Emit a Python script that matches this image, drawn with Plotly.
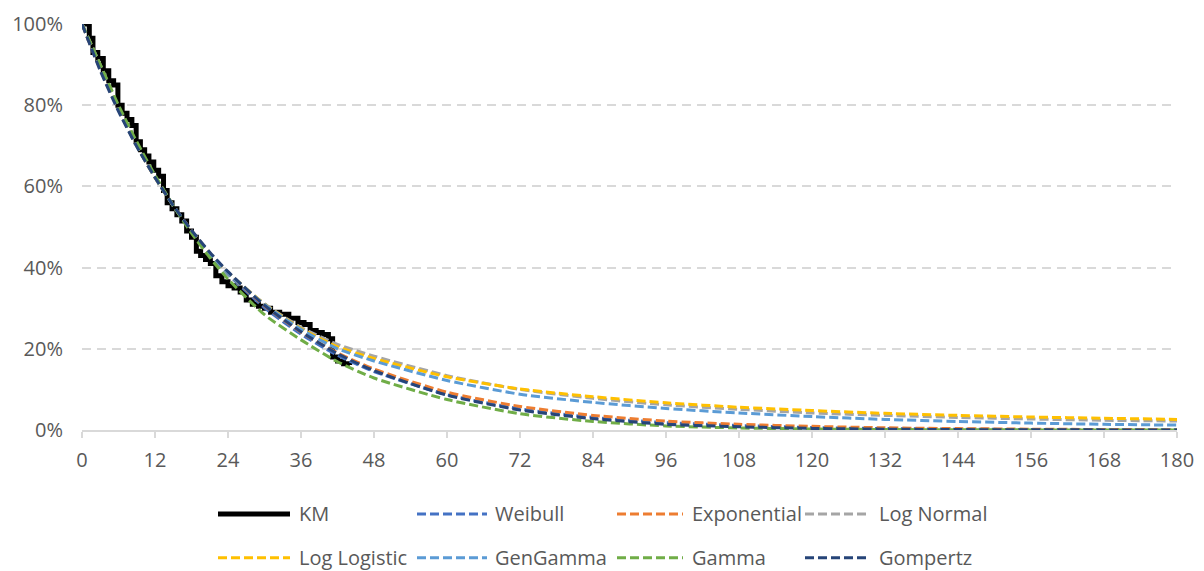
import plotly.graph_objects as go

# ---------------- data ----------------
months = [0, 3, 6, 9, 12, 15, 18, 21, 24, 30, 36, 42, 48, 60, 72, 84, 96, 108, 120, 132, 144, 156, 168, 180]

weibull = [1.0, 0.89, 0.79, 0.70, 0.623, 0.552, 0.489, 0.433, 0.384, 0.301, 0.236, 0.184, 0.144, 0.087, 0.052, 0.031,
           0.018, 0.011, 0.006, 0.0035, 0.002, 0.0012, 0.0007, 0.0004]
exponential = [1.0, 0.888, 0.789, 0.70, 0.622, 0.553, 0.491, 0.436, 0.387, 0.306, 0.241, 0.19, 0.15, 0.093, 0.058,
               0.036, 0.022, 0.014, 0.009, 0.0054, 0.0034, 0.0021, 0.0013, 0.0008]
log_normal = [1.0, 0.90, 0.795, 0.705, 0.625, 0.553, 0.49, 0.435, 0.388, 0.311, 0.253, 0.211, 0.182, 0.134, 0.100,
              0.078, 0.062, 0.051, 0.042, 0.036, 0.031, 0.027, 0.024, 0.022]
log_logistic = [1.0, 0.895, 0.79, 0.70, 0.622, 0.552, 0.49, 0.435, 0.388, 0.31, 0.25, 0.205, 0.176, 0.131, 0.101,
                0.082, 0.067, 0.056, 0.048, 0.041, 0.036, 0.032, 0.029, 0.026]
gen_gamma = [1.0, 0.895, 0.79, 0.70, 0.622, 0.552, 0.49, 0.435, 0.387, 0.309, 0.248, 0.200, 0.170, 0.122, 0.088,
             0.068, 0.053, 0.042, 0.033, 0.026, 0.021, 0.017, 0.014, 0.012]
gamma = [1.0, 0.90, 0.80, 0.71, 0.628, 0.553, 0.485, 0.425, 0.372, 0.284, 0.222, 0.168, 0.128, 0.075, 0.040, 0.021,
         0.010, 0.005, 0.0025, 0.0012, 0.0006, 0.0003, 0.00015, 0.0001]
gompertz = [1.0, 0.885, 0.785, 0.698, 0.622, 0.553, 0.492, 0.438, 0.39, 0.307, 0.242, 0.188, 0.146, 0.086, 0.049,
            0.028, 0.014, 0.008, 0.004, 0.002, 0.001, 0.0005, 0.0003, 0.0001]

km_months = [0, 1.2, 1.8, 2.6, 3.5, 4.4, 5.2, 5.9, 6.6, 7.4, 8.2, 8.9, 9.6, 10.3, 11.0, 11.8, 12.6, 13.4, 14.0,
             14.8, 15.6, 16.4, 17.2, 18.0, 18.8, 19.5, 20.3, 21.1, 22.0, 23.0, 24.0, 25.0, 26.0, 27.0, 28.0, 29.0,
             30.0, 31.0, 32.5, 34.0, 35.5, 36.5, 37.5, 38.5, 39.5, 40.5, 41.2, 42.0, 43.0, 44.0]
km_surv = [1.0, 0.965, 0.93, 0.915, 0.885, 0.86, 0.85, 0.80, 0.78, 0.765, 0.75, 0.71, 0.69, 0.675, 0.66, 0.64,
           0.625, 0.59, 0.56, 0.545, 0.53, 0.515, 0.49, 0.475, 0.44, 0.43, 0.42, 0.41, 0.38, 0.365, 0.355, 0.35,
           0.34, 0.32, 0.31, 0.305, 0.30, 0.29, 0.285, 0.275, 0.265, 0.26, 0.245, 0.24, 0.235, 0.225, 0.18, 0.17,
           0.163, 0.16]

x_ticks = list(range(0, 181, 12))
y_ticks = [0, 0.2, 0.4, 0.6, 0.8, 1.0]
y_tick_labels = ["0%", "20%", "40%", "60%", "80%", "100%"]

series = [
    ("Weibull", weibull, "#4472C4"),
    ("Exponential", exponential, "#ED7D31"),
    ("Log Normal", log_normal, "#A5A5A5"),
    ("Log Logistic", log_logistic, "#FFC000"),
    ("GenGamma", gen_gamma, "#5B9BD5"),
    ("Gamma", gamma, "#70AD47"),
    ("Gompertz", gompertz, "#264478"),
]

DASH = "9px,4px"

fig = go.Figure()
fig.add_trace(go.Scatter(x=km_months, y=km_surv, mode="lines", name="KM",
                         line=dict(color="black", width=5, shape="hv"), cliponaxis=False,
                         showlegend=False))
for name, vals, col in series:
    fig.add_trace(go.Scatter(x=months, y=vals, mode="lines", name=name,
                             line=dict(color=col, width=3, dash=DASH, shape="spline", smoothing=0.6),
                             cliponaxis=False, showlegend=False))

# ---------------- layout (page body has an 8px offset) ----------------
OFF = 8
W, H = 1204 - OFF, 571 - OFF
L, T = 82 - OFF, 23.5 - OFF
R = W - (1177 - OFF)
B = H - (430 - OFF)
pw, ph = W - L - R, H - T - B


def px_x(px):
    return (px - OFF - L) / pw


def px_y(py):
    return (H - B - (py - OFF)) / ph


legend_items = [
    ("KM", "black", None, 218, 290, 297, 514),
    ("Weibull", "#4472C4", DASH, 417, 487, 493, 514),
    ("Exponential", "#ED7D31", DASH, 617, 683, 690, 514),
    ("Log Normal", "#A5A5A5", DASH, 805, 870, 877, 514),
    ("Log Logistic", "#FFC000", DASH, 218, 290, 297, 558),
    ("GenGamma", "#5B9BD5", DASH, 417, 487, 493, 558),
    ("Gamma", "#70AD47", DASH, 617, 683, 690, 558),
    ("Gompertz", "#264478", DASH, 805, 870, 877, 558),
]
for label, col, dash, x0, x1, tx, yy in legend_items:
    line = dict(color=col, width=5 if dash is None else 3)
    if dash:
        line["dash"] = dash
    fig.add_shape(type="line", xref="paper", yref="paper", x0=px_x(x0), x1=px_x(x1),
                  y0=px_y(yy), y1=px_y(yy), line=line)
    fig.add_annotation(xref="paper", yref="paper", x=px_x(tx), y=px_y(yy), text=label,
                       showarrow=False, xanchor="left", yanchor="middle",
                       font=dict(size=20, color="#595959", family="Open Sans"))

fig.update_layout(
    width=W, height=H,
    margin=dict(l=L, r=R, t=T, b=B, autoexpand=False),
    paper_bgcolor="white", plot_bgcolor="white",
    font=dict(family="Open Sans", size=20, color="#595959"),
    showlegend=False,
)
fig.update_xaxes(range=[0, 180], tickvals=x_ticks, showgrid=False, zeroline=False,
                 showline=True, linecolor="#D9D9D9", linewidth=1.5,
                 ticks="outside", ticklen=6, tickcolor="#D9D9D9", tickwidth=1.5,
                 ticklabelstandoff=5, tickfont=dict(size=20, color="#595959"))
fig.update_yaxes(range=[0, 1], tickvals=y_ticks, ticktext=y_tick_labels, showgrid=True,
                 gridcolor="#D9D9D9", gridwidth=1.5, griddash="9px,6px", zeroline=False,
                 showline=False, ticks="", ticklabelstandoff=18,
                 tickfont=dict(size=20, color="#595959"))

fig.write_html("out.html")
